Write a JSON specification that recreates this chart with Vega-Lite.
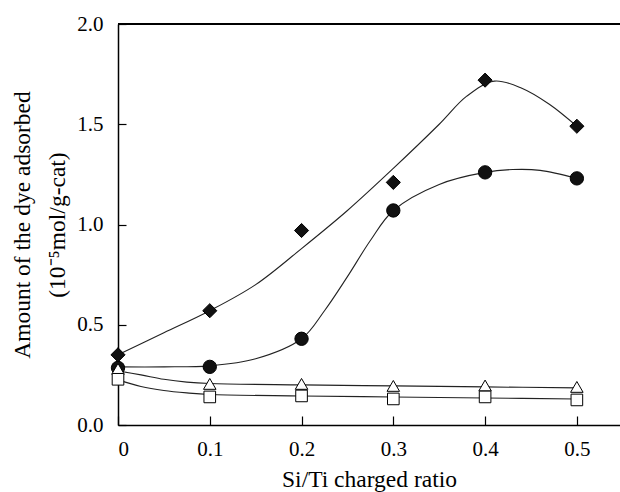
{
  "$schema": "https://vega.github.io/schema/vega-lite/v6.json",
  "width": 502,
  "height": 401,
  "autosize": {"type": "none"},
  "padding": {"left": 118, "top": 24, "right": 0, "bottom": 67},
  "background": "white",
  "config": {
    "font": "Liberation Serif",
    "view": {"stroke": null},
    "axis": {
      "grid": false,
      "domainColor": "black",
      "tickColor": "black",
      "labelColor": "black",
      "titleColor": "black",
      "labelFont": "Liberation Serif",
      "titleFont": "Liberation Serif",
      "labelFontSize": 21,
      "titleFontSize": 23.5,
      "titleFontWeight": "normal",
      "domainWidth": 1.5,
      "tickWidth": 1.2
    }
  },
  "datasets": {
    "points": [
      {"series": "circle", "x": 0, "y": 0.285},
      {"series": "circle", "x": 0.1, "y": 0.29},
      {"series": "circle", "x": 0.2, "y": 0.43},
      {"series": "circle", "x": 0.3, "y": 1.07},
      {"series": "circle", "x": 0.4, "y": 1.26},
      {"series": "circle", "x": 0.5, "y": 1.23},
      {"series": "triangle", "x": 0, "y": 0.28},
      {"series": "triangle", "x": 0.1, "y": 0.205},
      {"series": "triangle", "x": 0.2, "y": 0.205},
      {"series": "triangle", "x": 0.3, "y": 0.195},
      {"series": "triangle", "x": 0.4, "y": 0.197},
      {"series": "triangle", "x": 0.5, "y": 0.19},
      {"series": "square", "x": 0, "y": 0.228},
      {"series": "square", "x": 0.1, "y": 0.14},
      {"series": "square", "x": 0.2, "y": 0.145},
      {"series": "square", "x": 0.3, "y": 0.13},
      {"series": "square", "x": 0.4, "y": 0.14},
      {"series": "square", "x": 0.5, "y": 0.125},
      {"series": "diamond", "x": 0, "y": 0.35},
      {"series": "diamond", "x": 0.1, "y": 0.57},
      {"series": "diamond", "x": 0.2, "y": 0.97},
      {"series": "diamond", "x": 0.3, "y": 1.21},
      {"series": "diamond", "x": 0.4, "y": 1.72},
      {"series": "diamond", "x": 0.5, "y": 1.49}
    ],
    "curves": [
      {"series": "diamond", "x": 0, "y": 0.35},
      {"series": "diamond", "x": 0.05, "y": 0.46},
      {"series": "diamond", "x": 0.1, "y": 0.57},
      {"series": "diamond", "x": 0.15, "y": 0.70},
      {"series": "diamond", "x": 0.2, "y": 0.88},
      {"series": "diamond", "x": 0.25, "y": 1.07},
      {"series": "diamond", "x": 0.3, "y": 1.28},
      {"series": "diamond", "x": 0.35, "y": 1.50},
      {"series": "diamond", "x": 0.38, "y": 1.64},
      {"series": "diamond", "x": 0.41, "y": 1.715},
      {"series": "diamond", "x": 0.44, "y": 1.68},
      {"series": "diamond", "x": 0.47, "y": 1.60},
      {"series": "diamond", "x": 0.5, "y": 1.49},
      {"series": "circle", "x": 0, "y": 0.29},
      {"series": "circle", "x": 0.05, "y": 0.29},
      {"series": "circle", "x": 0.1, "y": 0.295},
      {"series": "circle", "x": 0.15, "y": 0.33},
      {"series": "circle", "x": 0.2, "y": 0.43},
      {"series": "circle", "x": 0.225, "y": 0.57},
      {"series": "circle", "x": 0.25, "y": 0.74},
      {"series": "circle", "x": 0.275, "y": 0.92},
      {"series": "circle", "x": 0.3, "y": 1.07},
      {"series": "circle", "x": 0.35, "y": 1.20},
      {"series": "circle", "x": 0.4, "y": 1.26},
      {"series": "circle", "x": 0.43, "y": 1.274},
      {"series": "circle", "x": 0.46, "y": 1.27},
      {"series": "circle", "x": 0.5, "y": 1.23},
      {"series": "triangle", "x": 0, "y": 0.27},
      {"series": "triangle", "x": 0.025, "y": 0.25},
      {"series": "triangle", "x": 0.05, "y": 0.228},
      {"series": "triangle", "x": 0.075, "y": 0.214},
      {"series": "triangle", "x": 0.1, "y": 0.207},
      {"series": "triangle", "x": 0.2, "y": 0.2},
      {"series": "triangle", "x": 0.3, "y": 0.195},
      {"series": "triangle", "x": 0.4, "y": 0.19},
      {"series": "triangle", "x": 0.5, "y": 0.185},
      {"series": "square", "x": 0, "y": 0.225},
      {"series": "square", "x": 0.025, "y": 0.192},
      {"series": "square", "x": 0.05, "y": 0.172},
      {"series": "square", "x": 0.075, "y": 0.16},
      {"series": "square", "x": 0.1, "y": 0.152},
      {"series": "square", "x": 0.2, "y": 0.145},
      {"series": "square", "x": 0.3, "y": 0.14},
      {"series": "square", "x": 0.4, "y": 0.135},
      {"series": "square", "x": 0.5, "y": 0.13}
    ]
  },
  "layer": [
    {
      "data": {"name": "curves"},
      "mark": {"type": "line", "interpolate": "catmull-rom", "color": "#222222", "strokeWidth": 1.1},
      "encoding": {
        "x": {
          "field": "x",
          "type": "quantitative",
          "scale": {"domain": [0, 0.547], "nice": false, "zero": false},
          "axis": {
            "values": [0, 0.1, 0.2, 0.3, 0.4, 0.5],
            "labelExpr": "datum.value == 0 ? '0' : format(datum.value, '.1f')",
            "tickSize": -9,
            "labelPadding": 22,
            "title": "Si/Ti charged ratio",
            "titlePadding": 8
          }
        },
        "y": {
          "field": "y",
          "type": "quantitative",
          "scale": {"domain": [0, 2], "nice": false},
          "axis": {
            "values": [0, 0.5, 1, 1.5, 2],
            "labelExpr": "format(datum.value, '.1f')",
            "tickSize": -8,
            "labelPadding": 23,
            "title": ["Amount of the dye adsorbed", "(10⁻⁵mol/g-cat)"],
            "titleLineHeight": 35,
            "titlePadding": 7
          }
        },
        "detail": {"field": "series"}
      }
    },
    {
      "data": {"name": "curves"},
      "mark": {"type": "rule", "color": "black", "strokeWidth": 1.5},
      "encoding": {"y": {"datum": 2, "type": "quantitative"}}
    },
    {
      "data": {"name": "points"},
      "mark": {"type": "point", "filled": true, "stroke": "black", "strokeWidth": 1, "opacity": 1},
      "encoding": {
        "x": {"field": "x", "type": "quantitative"},
        "y": {"field": "y", "type": "quantitative"},
        "shape": {
          "field": "series",
          "type": "nominal",
          "scale": {"domain": ["diamond", "circle", "triangle", "square"], "range": ["diamond", "circle", "triangle-up", "square"]},
          "legend": null
        },
        "fill": {
          "field": "series",
          "type": "nominal",
          "scale": {"domain": ["diamond", "circle", "triangle", "square"], "range": ["#111111", "#111111", "white", "white"]},
          "legend": null
        },
        "size": {
          "field": "series",
          "type": "nominal",
          "scale": {"domain": ["diamond", "circle", "triangle", "square"], "range": [200, 135, 150, 150]},
          "legend": null
        }
      }
    }
  ]
}
